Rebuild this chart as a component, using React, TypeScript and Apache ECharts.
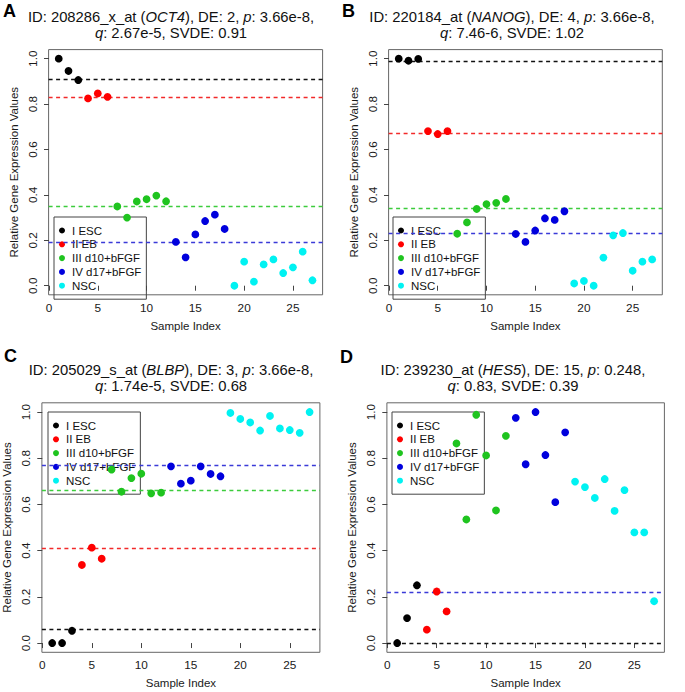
import React, { useEffect, useRef } from "react";
import * as echarts from "echarts";

const FONT = "'Liberation Sans', Arial, Helvetica, sans-serif";

const sampleIndex = [1, 2, 3, 4, 5, 6, 7, 8, 9, 10, 11, 12, 13, 14, 15, 16, 17, 18, 19, 20, 21, 22, 23, 24, 25, 26, 27];
const groupNames = ["I ESC", "II EB", "III d10+bFGF", "IV d17+bFGF", "NSC"];
const groupOfSample = [0, 0, 0, 1, 1, 1, 2, 2, 2, 2, 2, 2, 3, 3, 3, 3, 3, 3, 4, 4, 4, 4, 4, 4, 4, 4, 4];
const groupColors = ["#000000", "#ff0000", "#1fc41f", "#0000dd", "#00f2f2"];
const cutColors = ["#111111", "#f22a2a", "#3ccc3c", "#3a3ad8", "#00e0e0"];

const xTicks = [0, 5, 10, 15, 20, 25];
const yTicks = [0, 0.2, 0.4, 0.6, 0.8, 1.0];

// Panel A: OCT4
const valuesA = [1.0, 0.946, 0.906, 0.825, 0.847, 0.832, 0.349, 0.3, 0.371, 0.381, 0.397, 0.372, 0.193, 0.125, 0.226, 0.285, 0.313, 0.25, 0.0, 0.106, 0.018, 0.094, 0.116, 0.056, 0.081, 0.15, 0.024];
const cutsA = [0.906, 0.826, 0.349, 0.194, null];
// Panel B: NANOG
const valuesB = [1.0, 0.991, 0.999, 0.681, 0.668, 0.681, 0.229, 0.279, 0.338, 0.359, 0.365, 0.382, 0.228, 0.193, 0.243, 0.297, 0.29, 0.328, 0.01, 0.021, 0.0, 0.124, 0.222, 0.232, 0.066, 0.106, 0.116];
const cutsB = [0.991, 0.669, 0.338, 0.229, null];
// Panel C: BLBP
const valuesC = [0.0, 0.0, 0.053, 0.338, 0.413, 0.365, 0.751, 0.655, 0.714, 0.733, 0.648, 0.651, 0.765, 0.69, 0.703, 0.765, 0.732, 0.722, 0.996, 0.97, 0.955, 0.92, 0.983, 0.929, 0.922, 0.91, 1.0];
const cutsC = [0.055, 0.413, 0.655, 0.765, null];
// Panel D: HES5
const valuesD = [0.0, 0.108, 0.25, 0.058, 0.223, 0.137, 0.864, 0.535, 0.988, 0.812, 0.574, 0.897, 0.975, 0.774, 1.0, 0.814, 0.61, 0.912, 0.699, 0.675, 0.628, 0.71, 0.572, 0.662, 0.479, 0.479, 0.181];
const cutsD = [0.0, null, null, 0.223, null];

const panelLetters = ["A", "B", "C", "D"];
const titleLines1 = [
  "ID: 208286_x_at ({i|OCT4}), DE: 2, {i|p}: 3.66e-8,",
  "ID: 220184_at ({i|NANOG}), DE: 4, {i|p}: 3.66e-8,",
  "ID: 205029_s_at ({i|BLBP}), DE: 3, {i|p}: 3.66e-8,",
  "ID: 239230_at ({i|HES5}), DE: 15, {i|p}: 0.248,",
];
const titleLines2 = [
  "{i|q}: 2.67e-5, SVDE: 0.91",
  "{i|q}: 7.46-6, SVDE: 1.02",
  "{i|q}: 1.74e-5, SVDE: 0.68",
  "{i|q}: 0.83, SVDE: 0.39",
];

const panelValues = [valuesA, valuesB, valuesC, valuesD];
const panelCuts = [cutsA, cutsB, cutsC, cutsD];

// layout (pixels)
const grids = [
  { left: 48.6, top: 49.6, width: 274, height: 245.2 },
  { left: 388.6, top: 49.6, width: 273.7, height: 245.2 },
  { left: 41.9, top: 402.8, width: 278, height: 249.5 },
  { left: 386.9, top: 402.8, width: 277.5, height: 249.5 },
];
const titleCenters = [[171, 8.5], [512, 8.5], [171, 361.5], [513, 361.5]];
const letterPos = [[3, 2], [342, 2], [4, 347], [340, 348]];
const legendPos = [[54, 217], [393, 217], [48, 412], [392, 412]];

export default function App() {
  const ref = useRef<HTMLDivElement>(null);
  useEffect(() => {
    if (!ref.current) return;
    const chart = echarts.init(ref.current, undefined, { renderer: "svg" });

    const xAxes: any[] = [];
    const yAxes: any[] = [];
    const series: any[] = [];
    const legends: any[] = [];
    const graphics: any[] = [];

    grids.forEach((g, p) => {
      xAxes.push({
        type: "value",
        gridIndex: p,
        min: -0.04,
        max: 28.04,
        axisLine: { show: false },
        splitLine: { show: false },
        axisTick: { show: true, customValues: xTicks, length: 5, lineStyle: { color: "#444", width: 1 } },
        axisLabel: { customValues: xTicks, margin: 7, fontSize: 11.8, color: "#1a1a1a", fontFamily: FONT, formatter: (v: number) => String(v) },
        name: "Sample Index",
        nameLocation: "middle",
        nameGap: 25,
        nameTextStyle: { fontSize: 11.5, color: "#1a1a1a", fontFamily: FONT },
      });
      yAxes.push({
        type: "value",
        gridIndex: p,
        min: -0.04,
        max: 1.04,
        axisLine: { show: false },
        splitLine: { show: false },
        axisTick: { show: true, customValues: yTicks, length: 5, lineStyle: { color: "#444", width: 1 } },
        axisLabel: { customValues: yTicks, margin: 10, rotate: 90, fontSize: 11.8, color: "#1a1a1a", fontFamily: FONT, formatter: (v: number) => v.toFixed(1) },
        name: "Relative Gene Expression Values",
        nameLocation: "middle",
        nameRotate: 90,
        nameGap: 28.5,
        nameTextStyle: { fontSize: 11.5, color: "#1a1a1a", fontFamily: FONT },
      });

      const vals = panelValues[p];
      const cuts = panelCuts[p];
      groupNames.forEach((name, gi) => {
        const data = sampleIndex
          .map((x, i) => ({ x, v: vals[i], g: groupOfSample[i] }))
          .filter((d) => d.g === gi)
          .map((d) => [d.x, d.v]);
        const cut = cuts[gi];
        series.push({
          type: "scatter",
          name,
          xAxisIndex: p,
          yAxisIndex: p,
          data,
          symbol: "circle",
          symbolSize: 7.8,
          itemStyle: { color: groupColors[gi], opacity: 1 },
          z: 3,
          markLine:
            cut === null
              ? undefined
              : {
                  silent: true,
                  symbol: "none",
                  label: { show: false },
                  lineStyle: { type: [4, 3.5], color: cutColors[gi], width: 1.4, opacity: 1 },
                  emphasis: { disabled: true },
                  data: [{ yAxis: cut }],
                  z: 2,
                },
        });
      });

      legends.push({
        data: groupNames,
        orient: "vertical",
        left: legendPos[p][0],
        top: legendPos[p][1],
        icon: "circle",
        itemWidth: 10,
        itemHeight: 6,
        itemGap: 1.8,
        padding: [7.5, 5, 7.5, 5],
        borderColor: "#444",
        borderWidth: 1,
        selectedMode: false,
        z: 1,
        textStyle: { fontSize: 11.5, color: "#111", fontFamily: FONT, padding: [0, 0, 0, 0] },
      });

      graphics.push({
        type: "text",
        x: titleCenters[p][0],
        y: titleCenters[p][1],
        style: {
          text: titleLines1[p] + "\n" + titleLines2[p],
          align: "center",
          verticalAlign: "top",
          fontSize: 14.8,
          fontFamily: FONT,
          lineHeight: 16.5,
          fill: "#111",
          rich: { i: { fontStyle: "italic", fontSize: 14.8, fontFamily: FONT, lineHeight: 16.5, fill: "#111" } },
        },
      });
      graphics.push({
        type: "text",
        x: letterPos[p][0],
        y: letterPos[p][1],
        style: {
          text: panelLetters[p],
          fontSize: 18,
          fontWeight: "bold",
          fontFamily: FONT,
          fill: "#000",
          verticalAlign: "top",
        },
      });
    });

    chart.setOption({
      animation: false,
      backgroundColor: "#ffffff",
      grid: grids.map((g) => ({ ...g, show: true, borderColor: "#666", borderWidth: 1, backgroundColor: "transparent", containLabel: false })),
      xAxis: xAxes,
      yAxis: yAxes,
      series,
      legend: legends,
      graphic: graphics,
    });
    return () => chart.dispose();
  }, []);

  return <div ref={ref} style={{ position: "fixed", left: 0, top: 0, width: 685, height: 692 }} />;
}
